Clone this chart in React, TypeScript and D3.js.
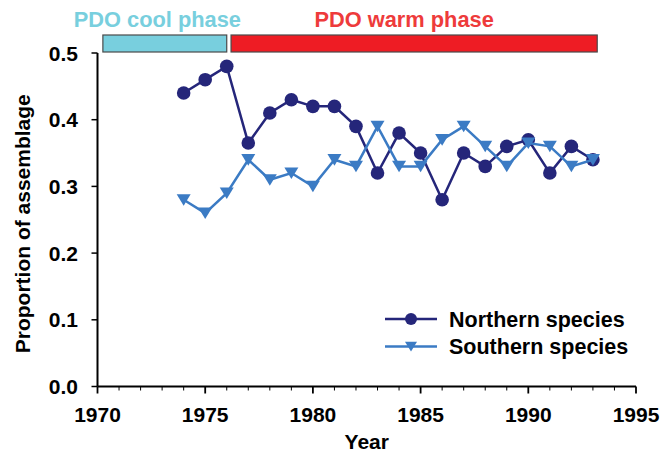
import React from "react";
import * as d3 from "d3";

const years = [1974,1975,1976,1977,1978,1979,1980,1981,1982,1983,1984,1985,1986,1987,1988,1989,1990,1991,1992,1993];
const northern = [0.44,0.46,0.48,0.365,0.41,0.43,0.42,0.42,0.39,0.32,0.38,0.35,0.28,0.35,0.33,0.36,0.37,0.32,0.36,0.34];
const southern = [0.28,0.26,0.29,0.34,0.31,0.32,0.30,0.34,0.33,0.39,0.33,0.33,0.37,0.39,0.36,0.33,0.365,0.36,0.33,0.34];
const xTicks = [1970,1975,1980,1985,1990,1995];
const yTicks = [0,0.1,0.2,0.3,0.4,0.5];
const phaseLabels = ["PDO cool phase","PDO warm phase"];
const phaseStart = [1970.25,1976.2];
const phaseEnd = [1976.0,1993.2];
const phaseFill = ["#78CFDE","#EE1C24"];
const phaseText = ["#78CFDE","#EE3B3B"];
const seriesNames = ["Northern species","Southern species"];
const seriesColors = ["#25267A","#3B7BC4"];

const FONT = "'Liberation Sans', Arial, sans-serif";

export default function App() {
  const W = 672, H = 454;
  const x = d3.scaleLinear().domain([1970,1995]).range([97.5,636]);
  const y = d3.scaleLinear().domain([0,0.5]).range([386.5,53]);
  const line = d3.line<number>().x((_, i) => x(years[i])).y(d => y(d));
  const minor = d3.range(1970,1996).filter(v => v % 5 !== 0);
  const tri = (cx: number, cy: number, s: number) =>
    `M${cx - s},${cy - s * 0.8}L${cx + s},${cy - s * 0.8}L${cx},${cy + s * 0.85}Z`;
  const series = [northern, southern];
  return (
    <svg width={W} height={H} style={{position:"absolute",left:0,top:0,background:"#fff"}} fontFamily={FONT}>
      {phaseLabels.map((lab, i) => (
        <g key={lab}>
          <rect x={x(phaseStart[i])} y={35} width={x(phaseEnd[i]) - x(phaseStart[i])} height={17}
            fill={phaseFill[i]} stroke="#4a4a4a" strokeWidth={1.2} />
          <text x={(x(phaseStart[i]) + x(phaseEnd[i])) / 2 + (i === 0 ? -7.5 : -10)} y={26.5}
            textAnchor="middle" fontSize={21.8} fontWeight="bold" fill={phaseText[i]}>{lab}</text>
        </g>
      ))}
      <line x1={x(1970)} x2={x(1970)} y1={y(0.5)} y2={y(0)} stroke="#000" strokeWidth={2} />
      <line x1={x(1970)} x2={x(1995)} y1={y(0)} y2={y(0)} stroke="#000" strokeWidth={2} />
      {yTicks.map(t => (
        <g key={t}>
          <line x1={x(1970) - 6} x2={x(1970)} y1={y(t)} y2={y(t)} stroke="#000" strokeWidth={1.5} />
          <text x={78} y={y(t) + 7.5} textAnchor="end" fontSize={21} fontWeight="bold">{t.toFixed(1)}</text>
        </g>
      ))}
      {xTicks.map(t => (
        <g key={t}>
          <line x1={x(t)} x2={x(t)} y1={y(0)} y2={y(0) + 7} stroke="#000" strokeWidth={1.8} />
          <text x={x(t)} y={422} textAnchor="middle" fontSize={21} fontWeight="bold">{t}</text>
        </g>
      ))}
      {minor.map(t => (
        <line key={t} x1={x(t)} x2={x(t)} y1={y(0)} y2={y(0) + 4} stroke="#000" strokeWidth={1} />
      ))}
      <text x={(x(1970) + x(1995)) / 2} y={449} textAnchor="middle" fontSize={21} fontWeight="bold">Year</text>
      <text transform={`translate(30,${(y(0) + y(0.5)) / 2 + 4}) rotate(-90)`} textAnchor="middle" fontSize={21} fontWeight="bold">Proportion of assemblage</text>
      {series.map((s, k) => (
        <g key={k}>
          <path d={line(s) || ""} fill="none" stroke={seriesColors[k]} strokeWidth={2.5} />
          {s.map((v, i) => k === 0
            ? <circle key={i} cx={x(years[i])} cy={y(v)} r={6.8} fill={seriesColors[k]} />
            : <path key={i} d={tri(x(years[i]), y(v), 7)} fill={seriesColors[k]} />)}
        </g>
      ))}
      {seriesNames.map((n, k) => {
        const ly = 319 + k * 27.5;
        return (
          <g key={n}>
            <line x1={385} x2={437} y1={ly} y2={ly} stroke={seriesColors[k]} strokeWidth={2.5} />
            {k === 0
              ? <circle cx={411} cy={ly} r={6} fill={seriesColors[k]} />
              : <path d={tri(411, ly, 6)} fill={seriesColors[k]} />}
            <text x={449} y={ly + 7.5} fontSize={21.5} fontWeight="bold" fill="#000">{n}</text>
          </g>
        );
      })}
    </svg>
  );
}
